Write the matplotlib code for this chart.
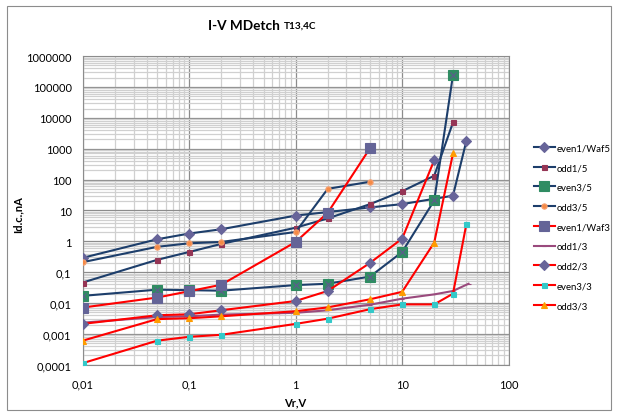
#!/usr/bin/env python
# -*- coding: utf-8 -*-

"""plot.py: I-V MDetch summary (log-log), Excel style"""

import numpy as np
import matplotlib
matplotlib.use("Agg")
import matplotlib.pyplot as plt
from matplotlib.ticker import FixedLocator, LogLocator, NullFormatter, FuncFormatter
from matplotlib.patches import Rectangle

#### Data (Vr in V, Id.c. in nA)

v_even1_waf5 = [0.01, 0.05, 0.1, 0.2, 1, 5, 10, 30, 40]
i_even1_waf5 = [0.29, 1.16, 1.78, 2.45, 6.8, 12.5, 16, 30, 1750]

v_odd1_5 = [0.01, 0.05, 0.1, 0.2, 1, 2, 5, 10, 20, 30]
i_odd1_5 = [0.046, 0.25, 0.45, 0.82, 2.75, 5.5, 16, 42, 133, 7100]

v_even3_5 = [0.01, 0.05, 0.1, 0.2, 1, 2, 5, 10, 20, 30]
i_even3_5 = [0.017, 0.027, 0.026, 0.025, 0.038, 0.042, 0.072, 0.45, 21, 245000]

v_odd3_5 = [0.01, 0.05, 0.1, 0.2, 1, 2, 5]
i_odd3_5 = [0.21, 0.66, 0.86, 0.95, 2.0, 50, 85]

v_even1_waf3 = [0.01, 0.05, 0.1, 0.2, 1, 2, 5]
i_even1_waf3 = [0.0071, 0.015, 0.024, 0.039, 0.95, 8.4, 1050]

v_odd1_3 = [0.01, 0.05, 0.1, 0.2, 1, 2, 5, 10, 20, 30, 42]
i_odd1_3 = [0.0023, 0.0035, 0.0037, 0.0042, 0.0048, 0.0058, 0.0088,
            0.0138, 0.019, 0.0245, 0.042]

v_odd2_3 = [0.01, 0.05, 0.1, 0.2, 1, 2, 5, 10, 20]
i_odd2_3 = [0.0021, 0.004, 0.0043, 0.0058, 0.0116, 0.0245, 0.2, 1.22, 425]

v_even3_3 = [0.01, 0.05, 0.1, 0.2, 1, 2, 5, 10, 20, 30, 40]
i_even3_3 = [0.000112, 0.0006, 0.0008, 0.00093, 0.0021, 0.0031, 0.0063,
             0.009, 0.009, 0.020, 3.5]

v_odd3_3 = [0.01, 0.05, 0.1, 0.2, 1, 2, 5, 10, 20, 30]
i_odd3_3 = [0.0006, 0.003, 0.0032, 0.0037, 0.0054, 0.0072, 0.0132, 0.023,
            0.91, 700]

series_labels = ["even1/Waf5", "odd1/5", "even3/5", "odd3/5", "even1/Waf3",
                 "odd1/3", "odd2/3", "even3/3", "odd3/3"]

x_ticks = [0.01, 0.1, 1, 10, 100]
y_ticks = [0.0001, 0.001, 0.01, 0.1, 1, 10, 100, 1000, 10000, 100000, 1000000]

#### Styles

DARK_BLUE = "#1d3e6b"
RED = "#ff0000"

styles = [
    dict(color=DARK_BLUE, marker="D", ms=5, mfc="#676499", mec="#676499"),
    dict(color=DARK_BLUE, marker="s", ms=3.6, mfc="#953555", mec="#953555"),
    dict(color=DARK_BLUE, marker="s", ms=7.2, mfc="#2f8c62", mec="#2f8c62"),
    dict(color=DARK_BLUE, marker="o", ms=3.8, mfc="#f58a45", mec="#f7a070"),
    dict(color=RED, marker="s", ms=7.8, mfc="#646497", mec="#646497"),
    dict(color="#9a4a7d", marker="_", ms=3, mfc="#9a4a7d", mec="#9a4a7d"),
    dict(color=RED, marker="D", ms=5, mfc="#676499", mec="#676499"),
    dict(color=RED, marker="s", ms=3.6, mfc="#33c9c9", mec="#33c9c9"),
    dict(color=RED, marker="^", ms=4.3, mfc="#ff9c00", mec="#ff9c00"),
]


def comma_fmt(val, pos):
    s = ("%.4f" % val).rstrip("0").rstrip(".")
    return s.replace(".", ",")


def plot_chart():
    plt.rcParams["font.family"] = ["Lato", "DejaVu Sans"]
    fig = plt.figure(figsize=(6.18, 4.14), dpi=100)
    ax = fig.add_axes([0.1338, 0.1167, 0.6893, 0.7453])

    data = [(v_even1_waf5, i_even1_waf5), (v_odd1_5, i_odd1_5),
            (v_even3_5, i_even3_5), (v_odd3_5, i_odd3_5),
            (v_even1_waf3, i_even1_waf3), (v_odd1_3, i_odd1_3),
            (v_odd2_3, i_odd2_3), (v_even3_3, i_even3_3),
            (v_odd3_3, i_odd3_3)]

    for (v, i), lab, st in zip(data, series_labels, styles):
        ax.plot(v, i, label=lab, lw=1.5, color=st["color"], marker=st["marker"],
                ms=st["ms"], mfc=st["mfc"], mec=st["mec"], mew=0.8, zorder=3)
        if lab == "even3/5":
            # excel marker has a cross on the square
            ax.plot(v, i, ls="none", marker="x", ms=5, mec="#5a5f8a",
                    mew=0.9, zorder=3)

    ax.set_xscale("log")
    ax.set_yscale("log")
    ax.set_xlim(0.01, 100)
    ax.set_ylim(0.0001, 1000000)

    ax.xaxis.set_major_locator(FixedLocator(x_ticks))
    ax.yaxis.set_major_locator(FixedLocator(y_ticks))
    ax.xaxis.set_minor_locator(LogLocator(base=10, subs=np.arange(2, 10), numticks=20))
    ax.yaxis.set_minor_locator(LogLocator(base=10, subs=np.arange(2, 10), numticks=40))
    ax.xaxis.set_major_formatter(FuncFormatter(comma_fmt))
    ax.yaxis.set_major_formatter(FuncFormatter(comma_fmt))
    ax.xaxis.set_minor_formatter(NullFormatter())
    ax.yaxis.set_minor_formatter(NullFormatter())

    ax.grid(True, which="major", color="#8c8c8c", lw=0.9, zorder=1)
    ax.grid(True, which="minor", color="#d0d0d0", lw=0.9, zorder=0)
    ax.set_axisbelow(True)
    ax.tick_params(which="both", length=0, labelsize=8, colors="#000000")
    ax.tick_params(axis="x", pad=10)
    ax.tick_params(axis="y", pad=8)
    for sp in ax.spines.values():
        sp.set_color("#8c8c8c")

    ax.set_xlabel("Vr,V", fontsize=8, fontweight="bold")
    ax.xaxis.set_label_coords(0.5, -0.103)
    ax.set_ylabel("Id.c.,nA", fontsize=8, fontweight="bold")
    ax.yaxis.set_label_coords(-0.14, 0.49)

    # title: big part + small part
    fig.text(0.453, 0.938, "I-V MDetch", ha="right", va="center",
             fontsize=9.8, fontweight="bold")
    fig.text(0.459, 0.936, "T13,4C", ha="left", va="center",
             fontsize=7.2, fontweight="bold")

    ax.legend(loc="upper left", bbox_to_anchor=(1.05, 0.73),
              frameon=False, fontsize=6.9, handlelength=2.2,
              handletextpad=0.2, labelspacing=1.12, borderaxespad=0)

    fig.patches.append(Rectangle((7 / 618., 3 / 414.), 604 / 618., 404 / 414.,
                                 transform=fig.transFigure, fill=False,
                                 edgecolor="#8c8c8c", lw=0.8))

    fig.savefig("out.png", dpi=100)
    plt.close(fig)


if __name__ == "__main__":
    plot_chart()
